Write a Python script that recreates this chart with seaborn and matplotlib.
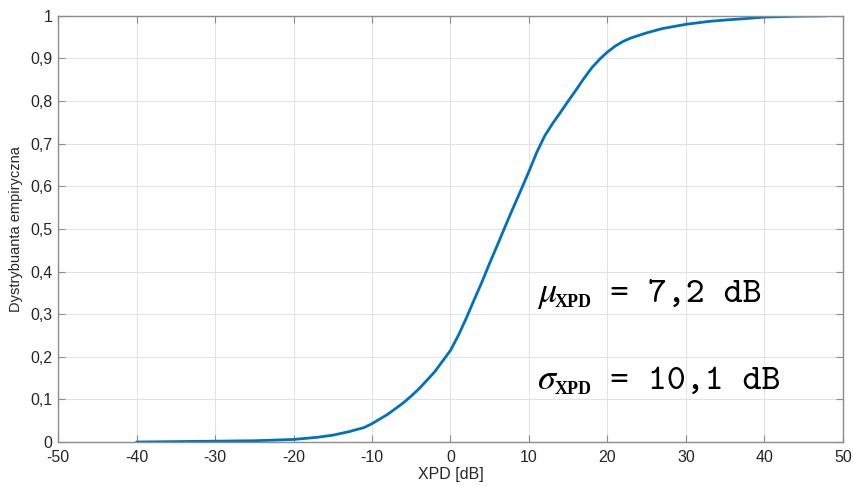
import matplotlib
matplotlib.use("Agg")
import matplotlib.pyplot as plt
import seaborn as sns
import pandas as pd

xpd_db = [-40, -35, -30, -25, -20, -17, -15, -13, -11, -10, -8, -6, -5, -4, -2,
          0, 1, 2, 3, 4, 5, 6, 7, 8, 9, 10, 11, 12, 13, 14, 15, 16, 17, 18, 19,
          20, 21, 22, 23, 25, 27, 30, 33, 35, 38, 40, 44, 48]
cdf_vals = [0.000, 0.001, 0.002, 0.003, 0.006, 0.011, 0.016, 0.024, 0.034, 0.043,
            0.065, 0.092, 0.108, 0.125, 0.165,
            0.215, 0.25, 0.29, 0.333, 0.375, 0.42, 0.463, 0.507, 0.55, 0.592,
            0.635, 0.68, 0.718, 0.747, 0.773, 0.80, 0.826, 0.853, 0.878, 0.898,
            0.915, 0.929, 0.94, 0.948, 0.96, 0.97, 0.98, 0.987, 0.99, 0.994,
            0.997, 0.999, 1.0]

x_ticks = [-50, -40, -30, -20, -10, 0, 10, 20, 30, 40, 50]
x_tick_labels = ['-50', '-40', '-30', '-20', '-10', '0', '10', '20', '30', '40', '50']
y_ticks = [0, 0.1, 0.2, 0.3, 0.4, 0.5, 0.6, 0.7, 0.8, 0.9, 1.0]
y_tick_labels = ['0', '0,1', '0,2', '0,3', '0,4', '0,5', '0,6', '0,7', '0,8', '0,9', '1']

x_label = 'XPD [dB]'
y_label = 'Dystrybuanta empiryczna'
stat_symbols = [r'$\mu$', r'$\sigma$']
stat_subscript = 'XPD'
stat_values = ['= 7,2 dB', '= 10,1 dB']

df = pd.DataFrame({'xpd': xpd_db, 'cdf': cdf_vals})

sns.set_style('ticks')
plt.rcParams['font.family'] = ['Liberation Sans', 'DejaVu Sans']
plt.rcParams['mathtext.fontset'] = 'stix'

fig = plt.figure(figsize=(8.54, 4.86), dpi=100)
ax = fig.add_axes([0.068, 0.0905, 0.919, 0.877])

sns.lineplot(data=df, x='xpd', y='cdf', ax=ax, color='#0072BD', linewidth=2.0,
             estimator=None, sort=False)

ax.set_xlim(-50, 50)
ax.set_ylim(0, 1)
ax.set_xticks(x_ticks)
ax.set_xticklabels(x_tick_labels)
ax.set_yticks(y_ticks)
ax.set_yticklabels(y_tick_labels)

ax.grid(True, color='#e3e3e3', linewidth=0.8)
ax.set_axisbelow(True)
for s in ax.spines.values():
    s.set_visible(True)
    s.set_color('#8c8c8c')
    s.set_linewidth(1.0)

ax.tick_params(axis='both', direction='in', length=5, width=0.8, color='#8c8c8c',
               top=True, right=True, labelsize=11.5, labelcolor='#262626')
ax.tick_params(axis='x', pad=6)
ax.tick_params(axis='y', pad=4)

ax.set_xlabel(x_label, fontsize=11.5, color='#262626', labelpad=1)
ax.set_ylabel(y_label, fontsize=10.5, color='#262626', labelpad=5)

# annotations: symbol (math italic), subscript (serif), value (typewriter)
base_y = [0.329, 0.124]
for sym, val, yb in zip(stat_symbols, stat_values, base_y):
    ax.text(11.0, yb, sym, fontsize=26, color='black', ha='left', va='baseline')
    ax.text(13.3, yb - 0.012, stat_subscript, fontsize=13, color='black',
            family=['Liberation Serif'], fontweight='bold',
            ha='left', va='baseline')
    ax.text(20.3, yb, val, fontsize=26, color='black',
            family=['cmtt10', 'DejaVu Sans Mono'], ha='left', va='baseline')

fig.savefig('out.png', dpi=100)
